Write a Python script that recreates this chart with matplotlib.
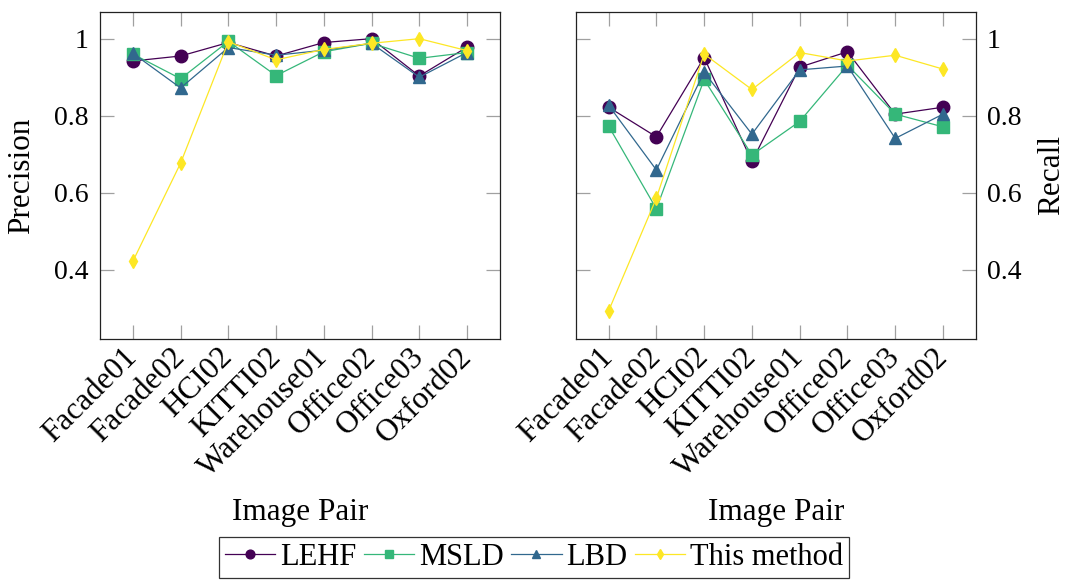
import matplotlib
matplotlib.use("Agg")
import matplotlib.pyplot as plt
from matplotlib.lines import Line2D

plt.rcParams['font.family'] = ['Liberation Serif', 'DejaVu Serif']

pairs = ['Facade01', 'Facade02', 'HCI02', 'KITTI02', 'Warehouse01',
         'Office02', 'Office03', 'Oxford02']
methods = ['LEHF', 'MSLD', 'LBD', 'This method']

# precision per method
prec_lehf = [0.942, 0.955, 0.990, 0.955, 0.990, 1.000, 0.903, 0.978]
prec_msld = [0.960, 0.896, 0.993, 0.904, 0.966, 0.988, 0.949, 0.964]
prec_lbd = [0.962, 0.872, 0.977, 0.957, 0.970, 0.988, 0.900, 0.964]
prec_ours = [0.422, 0.677, 0.992, 0.945, 0.972, 0.988, 1.000, 0.969]

# recall per method
rec_lehf = [0.822, 0.745, 0.951, 0.681, 0.926, 0.966, 0.804, 0.822]
rec_msld = [0.773, 0.558, 0.894, 0.698, 0.785, 0.931, 0.804, 0.771]
rec_lbd = [0.827, 0.659, 0.913, 0.752, 0.919, 0.929, 0.741, 0.804]
rec_ours = [0.293, 0.586, 0.960, 0.868, 0.964, 0.942, 0.957, 0.921]

colors = ['#440154', '#35b779', '#31688e', '#fde725']
markers = ['o', 's', '^', 'd']
msizes = [9, 8.5, 8.5, 7]

FS_NUM = 20    # numeric tick labels
FS_TXT = 22.5  # text labels (Palatino in the original is wider than Times)

fig = plt.figure(figsize=(10.68, 5.86), dpi=100)
ax1 = fig.add_axes([0.0936, 0.4215, 0.3745, 0.5585])
ax2 = fig.add_axes([0.539, 0.4215, 0.3748, 0.5585])

x = list(range(len(pairs)))
for ax, series in ((ax1, [prec_lehf, prec_msld, prec_lbd, prec_ours]),
                   (ax2, [rec_lehf, rec_msld, rec_lbd, rec_ours])):
    for vals, c, m, ms in zip(series, colors, markers, msizes):
        ax.plot(x, vals, color=c, marker=m, ms=ms, lw=0.9)
    ax.set_xlim(-0.69, 7.69)
    ax.set_ylim(0.22, 1.07)
    ax.set_yticks([0.4, 0.6, 0.8, 1.0])
    ax.set_yticklabels(['0.4', '0.6', '0.8', '1'])
    ax.set_xticks(x)
    ax.set_xticklabels(pairs, rotation=45, ha='right', va='center',
                       rotation_mode='anchor', fontsize=FS_TXT)
    ax.tick_params(direction='in', length=10, width=0.9, color='#a0a0a0',
                   top=True, right=True)
    ax.tick_params(axis='y', labelsize=FS_NUM, pad=8)
    ax.tick_params(axis='x', pad=10)
    for sp in ax.spines.values():
        sp.set_linewidth(0.9)
        sp.set_color('#222222')
    ax.set_xlabel('Image Pair', fontsize=FS_TXT, va='center')
    ax.xaxis.set_label_coords(0.5, -0.529)

ax1.set_ylabel('Precision', fontsize=FS_TXT, va='center')
ax1.yaxis.set_label_coords(-0.195, 0.5)

ax2.yaxis.tick_right()
ax2.tick_params(left=True, right=True)
ax2.yaxis.set_label_position('right')
ax2.set_ylabel('Recall', fontsize=FS_TXT, va='center')
ax2.yaxis.set_label_coords(1.19, 0.5)

handles = [Line2D([], [], color=c, marker=m, ms=ms * 0.7, lw=0.9)
           for c, m, ms in zip(colors, markers, msizes)]
leg = fig.legend(handles, methods, loc='upper center',
                 bbox_to_anchor=(0.5, 1 - 537 / 586), ncol=4, fontsize=22,
                 frameon=True, fancybox=False, edgecolor='black',
                 handlelength=1.65, handletextpad=0.15, columnspacing=0.25,
                 borderpad=0.2, borderaxespad=0)
leg.get_frame().set_linewidth(0.9)

fig.savefig('out.png', dpi=100)
